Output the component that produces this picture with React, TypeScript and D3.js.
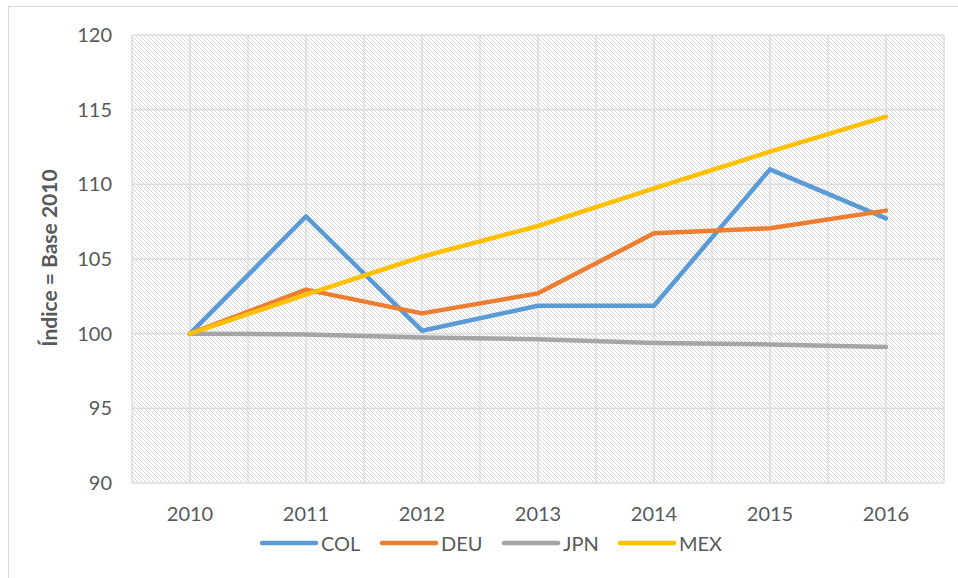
import React from "react";
import { scaleLinear, scalePoint, line } from "d3";

const years = ["2010", "2011", "2012", "2013", "2014", "2015", "2016"];
const col = [100, 107.85, 100.2, 101.87, 101.87, 111.0, 107.72];
const deu = [100, 102.95, 101.36, 102.7, 106.72, 107.06, 108.24];
const jpn = [100, 99.95, 99.75, 99.62, 99.38, 99.28, 99.1];
const mex = [100, 102.62, 105.15, 107.21, 109.73, 112.19, 114.53];
const seriesNames = ["COL", "DEU", "JPN", "MEX"];
const seriesColors = ["#5b9bd5", "#ed7d31", "#a5a5a5", "#ffc000"];
const yTicks = [90, 95, 100, 105, 110, 115, 120];

const W = 958;
const H = 578;
const plot = { left: 132, right: 944, top: 35, bottom: 483 };
const font = "Lato, 'Open Sans', sans-serif";
const textColor = "#595959";

export default function App() {
  const step = (plot.right - plot.left) / years.length;
  const x = scalePoint<string>()
    .domain(years)
    .range([plot.left + step / 2, plot.right - step / 2]);
  const y = scaleLinear().domain([90, 120]).range([plot.bottom, plot.top]);
  const path = line<number>()
    .x((_, i) => x(years[i]) as number)
    .y((d) => y(d));
  const allSeries = [col, deu, jpn, mex];

  // vertical grid at category edges and centers
  const vGrid: number[] = [];
  for (let i = 0; i <= years.length * 2; i++) vGrid.push(plot.left + (i * step) / 2);

  const legendX = [262, 382, 504, 620];

  return (
    <svg
      width={W}
      height={H}
      style={{ position: "absolute", left: 0, top: 0, background: "#fff" }}
    >
      <defs>
        <pattern id="hatch" width={4} height={4} patternUnits="userSpaceOnUse">
          <rect width={4} height={4} fill="#ffffff" />
          {[0, 1, 2, 3].map((i) => (
            <rect key={i} x={i} y={i} width={1} height={1} fill="#d6d6d6" />
          ))}
        </pattern>
      </defs>
      <rect x={8.5} y={6.5} width={1200} height={1200} fill="#fff" stroke="#d9d9d9" />

      <rect
        x={plot.left}
        y={plot.top}
        width={plot.right - plot.left}
        height={plot.bottom - plot.top}
        fill="url(#hatch)"
      />

      {yTicks.map((t) => (
        <line
          key={"h" + t}
          x1={plot.left}
          x2={plot.right}
          y1={y(t)}
          y2={y(t)}
          stroke="#dcdcdc"
          strokeWidth={1.5}
        />
      ))}
      {vGrid.map((v, i) => (
        <line
          key={"v" + i}
          x1={v}
          x2={v}
          y1={plot.top}
          y2={plot.bottom}
          stroke="#dcdcdc"
          strokeWidth={1.5}
        />
      ))}

      {yTicks.map((t) => (
        <text
          key={"yt" + t}
          x={112}
          y={y(t)}
          dy="0.35em"
          textAnchor="end"
          fontFamily={font}
          fontSize={20}
          fill={textColor}
        >
          {t}
        </text>
      ))}
      {years.map((yr) => (
        <text
          key={"xt" + yr}
          x={x(yr)}
          y={521}
          textAnchor="middle"
          fontFamily={font}
          fontSize={20}
          fill={textColor}
        >
          {yr}
        </text>
      ))}

      <text
        transform={`translate(57,${(plot.top + plot.bottom) / 2 - 1}) rotate(-90)`}
        textAnchor="middle"
        fontFamily={font}
        fontSize={21}
        fontWeight="bold"
        fill={textColor}
      >
        Índice = Base 2010
      </text>

      {allSeries.map((s, i) => (
        <path
          key={seriesNames[i]}
          d={path(s) as string}
          fill="none"
          stroke={seriesColors[i]}
          strokeWidth={4.5}
          strokeLinejoin="round"
          strokeLinecap="round"
        />
      ))}

      {seriesNames.map((n, i) => (
        <g key={"lg" + n}>
          <line
            x1={legendX[i]}
            x2={legendX[i] + 54}
            y1={543}
            y2={543}
            stroke={seriesColors[i]}
            strokeWidth={4.5}
            strokeLinecap="round"
          />
          <text
            x={legendX[i] + 59}
            y={550.5}
            fontFamily={font}
            fontSize={20}
            fill={textColor}
          >
            {n}
          </text>
        </g>
      ))}
    </svg>
  );
}
